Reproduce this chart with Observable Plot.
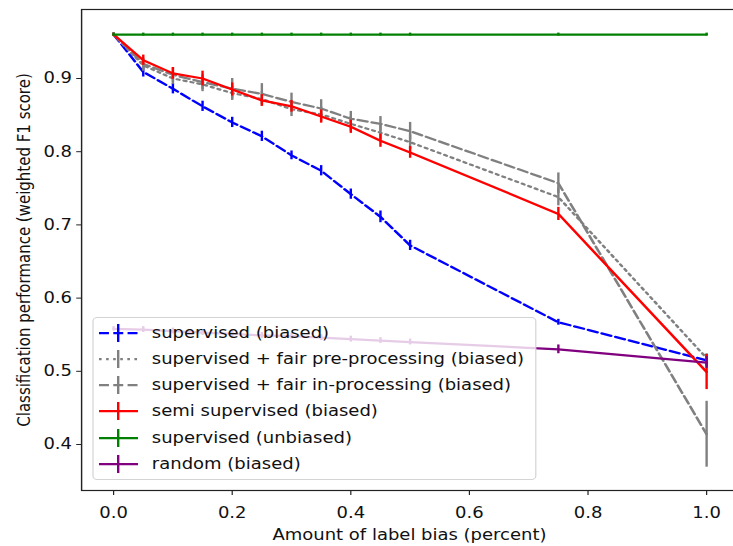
<!DOCTYPE html>
<html><head><meta charset="utf-8">
<script src="https://cdn.jsdelivr.net/npm/d3@7"></script>
<script src="https://cdn.jsdelivr.net/npm/@observablehq/plot@0.6"></script>
<style>
html,body{margin:0;padding:0;background:#fff;overflow:hidden;}
#wrap{position:relative;width:611px;height:546px;overflow:hidden;transform:scaleX(1.2);transform-origin:0 0;background:#fff;}
#chart svg{max-width:none !important;}
#legend{position:absolute;left:77px;top:316.5px;width:370px;height:163px;background:rgba(255,255,255,0.8);border:1px solid #d4d4d4;border-radius:4px;box-sizing:border-box;font-family:"DejaVu Sans";font-size:15px;color:#111;}
.row{position:absolute;left:0;height:26px;width:100%;}
.row svg{position:absolute;left:4px;top:0;}
.row span{position:absolute;left:48.5px;top:3px;line-height:20px;white-space:nowrap;}
</style></head><body><div id="wrap"><div id="chart"></div><div id="legend"></div></div>
<script>
// ---- data ----
const xs = [0, 0.05, 0.1, 0.15, 0.2, 0.25, 0.3, 0.35, 0.4, 0.45, 0.5, 0.75, 1.0];
const xTicks = [0, 0.2, 0.4, 0.6, 0.8, 1.0];
const yTicks = [0.4, 0.5, 0.6, 0.7, 0.8, 0.9];
const xLabel = "Amount of label bias (percent)";
const yLabel = "Classification performance (weighted F1 score)";

const supervisedBiased = [0.960, 0.909, 0.886, 0.862, 0.840, 0.821, 0.795, 0.774, 0.742, 0.711, 0.672, 0.567, 0.515];
const supervisedBiasedErr = [0.002, 0.007, 0.007, 0.007, 0.007, 0.007, 0.006, 0.007, 0.007, 0.008, 0.007, 0.004, 0.008];

const preProcessing = [0.960, 0.918, 0.900, 0.892, 0.880, 0.872, 0.858, 0.851, 0.838, 0.826, 0.813, 0.738, 0.518];
const preProcessingErr = [0.002, 0.008, 0.008, 0.010, 0.010, 0.010, 0.010, 0.010, 0.010, 0.010, 0.010, 0.012, 0.006];

const inProcessing = [0.960, 0.920, 0.905, 0.895, 0.886, 0.879, 0.868, 0.859, 0.845, 0.838, 0.828, 0.757, 0.414];
const inProcessingErr = [0.002, 0.008, 0.010, 0.010, 0.014, 0.014, 0.012, 0.012, 0.010, 0.010, 0.012, 0.014, 0.045];

const semiSupervised = [0.960, 0.925, 0.907, 0.900, 0.885, 0.870, 0.862, 0.848, 0.834, 0.815, 0.799, 0.715, 0.499];
const semiSupervisedErr = [0.002, 0.007, 0.008, 0.010, 0.009, 0.008, 0.008, 0.009, 0.009, 0.009, 0.008, 0.009, 0.024];

const supervisedUnbiased = [0.960, 0.960, 0.960, 0.960, 0.960, 0.960, 0.960, 0.960, 0.960, 0.960, 0.960, 0.960, 0.960];
const supervisedUnbiasedErr = [0.002, 0.002, 0.002, 0.002, 0.002, 0.002, 0.002, 0.002, 0.002, 0.002, 0.002, 0.002, 0.002];

const randomBiased = [0.558, 0.557, 0.555, 0.553, 0.551, 0.549, 0.548, 0.546, 0.544, 0.542, 0.540, 0.530, 0.512];
const randomBiasedErr = [0.003, 0.004, 0.004, 0.004, 0.004, 0.004, 0.004, 0.004, 0.004, 0.004, 0.004, 0.006, 0.008];

const seriesNames = ["supervised (biased)", "supervised + fair pre-processing (biased)", "supervised + fair in-processing (biased)", "semi supervised (biased)", "supervised (unbiased)", "random (biased)"];
const seriesColors = ["#0000ff", "#808080", "#808080", "#ff0000", "#008000", "#800080"];
const seriesDash = ["8.3,3.6", "2.2,3.7", "8.3,3.6", null, null, null];
const seriesValues = [supervisedBiased, preProcessing, inProcessing, semiSupervised, supervisedUnbiased, randomBiased];
const seriesErr = [supervisedBiasedErr, preProcessingErr, inProcessingErr, semiSupervisedErr, supervisedUnbiasedErr, randomBiasedErr];

// ---- build ----
const LW = 2.25;
const marks = [Plot.frame({stroke: "#222", strokeWidth: 1.2})];
seriesNames.forEach((name, i) => {
  const rows = xs.map((x, j) => ({x, y: seriesValues[i][j], lo: seriesValues[i][j] - seriesErr[i][j], hi: seriesValues[i][j] + seriesErr[i][j]}));
  const lineOpts = {x: "x", y: "y", stroke: seriesColors[i], strokeWidth: LW};
  if (seriesDash[i]) lineOpts.strokeDasharray = seriesDash[i];
  marks.push(Plot.line(rows, lineOpts));
  marks.push(Plot.ruleX(rows, {x: "x", y1: "lo", y2: "hi", stroke: seriesColors[i], strokeWidth: 2}));
});
marks.push(
  Plot.axisX({ticks: xTicks, tickFormat: d3.format(".1f"), tickSize: 5, tickPadding: 12, label: null, stroke: "#222"}),
  Plot.axisY({ticks: yTicks, tickFormat: d3.format(".1f"), tickSize: 4, tickPadding: 4, label: null, stroke: "#222"}),
  Plot.text([xLabel], {text: d => d, frameAnchor: "bottom", lineAnchor: "middle", dy: 45, fill: "#111"}),
  Plot.text([yLabel], {text: d => d, frameAnchor: "left", textAnchor: "middle", lineAnchor: "middle", dx: -47.5, rotate: -90, fill: "#111"})
);

const chart = Plot.plot({
  width: 616, height: 546,
  marginLeft: 67.5, marginRight: 2, marginTop: 9, marginBottom: 56,
  x: {domain: [-0.05397, 1.0519]},
  y: {domain: [0.33716, 0.99426]},
  style: {fontFamily: "DejaVu Sans", fontSize: "15px", background: "white", color: "#111", overflow: "visible", maxWidth: "none"},
  marks
});
document.getElementById("chart").appendChild(chart);

// ---- legend ----
const legend = document.getElementById("legend");
seriesNames.forEach((name, i) => {
  const row = document.createElement("div");
  row.className = "row";
  row.style.top = (2 + i * 26.3) + "px";
  const dash = seriesDash[i] ? `stroke-dasharray="${seriesDash[i]}"` : "";
  row.innerHTML = `<svg width="34" height="26"><line x1="0.5" x2="33" y1="13" y2="13" stroke="${seriesColors[i]}" stroke-width="${LW}" ${dash}/><line x1="16.5" x2="16.5" y1="4" y2="22" stroke="${seriesColors[i]}" stroke-width="2"/></svg><span></span>`;
  row.querySelector("span").textContent = name;
  legend.appendChild(row);
});
</script></body></html>
